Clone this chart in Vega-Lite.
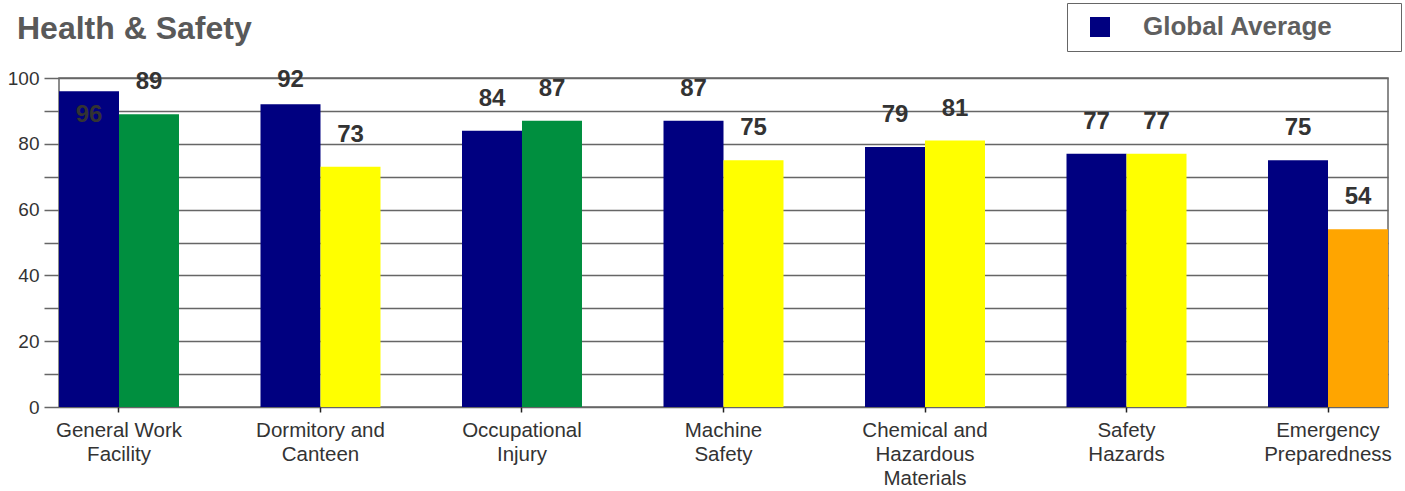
{
  "$schema": "https://vega.github.io/schema/vega-lite/v6.json",
  "width": 1329,
  "height": 329,
  "autosize": {"type": "none"},
  "padding": {"left": 59, "top": 78, "right": 17, "bottom": 84},
  "background": "white",
  "title": {
    "text": "Health & Safety",
    "anchor": "start",
    "frame": "group",
    "dx": -42,
    "dy": 68,
    "offset": 0,
    "baseline": "alphabetic",
    "font": "Liberation Sans",
    "fontSize": 32,
    "fontWeight": "bold",
    "color": "#595959"
  },
  "config": {
    "view": {"stroke": "#666666", "strokeWidth": 1.5},
    "font": "Liberation Sans"
  },
  "data": {
    "values": [
      {"category": "General Work Facility", "series": "Global Average", "value": 96, "rating": "Global Average"},
      {"category": "General Work Facility", "series": "Site", "value": 89, "rating": "Good"},
      {"category": "Dormitory and Canteen", "series": "Global Average", "value": 92, "rating": "Global Average"},
      {"category": "Dormitory and Canteen", "series": "Site", "value": 73, "rating": "Fair"},
      {"category": "Occupational Injury", "series": "Global Average", "value": 84, "rating": "Global Average"},
      {"category": "Occupational Injury", "series": "Site", "value": 87, "rating": "Good"},
      {"category": "Machine Safety", "series": "Global Average", "value": 87, "rating": "Global Average"},
      {"category": "Machine Safety", "series": "Site", "value": 75, "rating": "Fair"},
      {"category": "Chemical and Hazardous Materials", "series": "Global Average", "value": 79, "rating": "Global Average"},
      {"category": "Chemical and Hazardous Materials", "series": "Site", "value": 81, "rating": "Fair"},
      {"category": "Safety Hazards", "series": "Global Average", "value": 77, "rating": "Global Average"},
      {"category": "Safety Hazards", "series": "Site", "value": 77, "rating": "Fair"},
      {"category": "Emergency Preparedness", "series": "Global Average", "value": 75, "rating": "Global Average"},
      {"category": "Emergency Preparedness", "series": "Site", "value": 54, "rating": "Poor"}
    ]
  },
  "encoding": {
    "x": {
      "field": "category",
      "type": "nominal",
      "sort": null,
      "scale": {"paddingInner": 0.4045, "paddingOuter": 0},
      "axis": {
        "title": null,
        "domain": false,
        "grid": false,
        "labelAngle": 0,
        "ticks": true,
        "tickSize": 5,
        "tickColor": "#222222",
        "tickWidth": 1.5,
        "labelFont": "Liberation Sans",
        "labelFontSize": 20.5,
        "labelColor": "#333333",
        "labelPadding": 8,
        "labelLineHeight": 24,
        "labelLimit": 300,
        "labelExpr": "({'General Work Facility': ['General Work', 'Facility'], 'Dormitory and Canteen': ['Dormitory and', 'Canteen'], 'Occupational Injury': ['Occupational', 'Injury'], 'Machine Safety': ['Machine', 'Safety'], 'Chemical and Hazardous Materials': ['Chemical and', 'Hazardous', 'Materials'], 'Safety Hazards': ['Safety', 'Hazards'], 'Emergency Preparedness': ['Emergency', 'Preparedness']})[datum.label]"
      }
    },
    "xOffset": {
      "field": "series",
      "type": "nominal",
      "sort": ["Global Average", "Site"],
      "scale": {"paddingInner": 0, "paddingOuter": 0}
    }
  },
  "layer": [
    {
      "mark": {"type": "bar"},
      "encoding": {
        "y": {
          "field": "value",
          "type": "quantitative",
          "scale": {"domain": [0, 100], "nice": false},
          "axis": {
            "title": null,
            "tickCount": 10,
            "labelExpr": "datum.value % 20 === 0 ? datum.label : ''",
            "labelOverlap": false,
            "domain": false,
            "grid": true,
            "gridColor": "#666666",
            "gridWidth": 1.5,
            "gridOpacity": 1,
            "tickSize": 15,
            "tickColor": "#666666",
            "tickWidth": 1.5,
            "labelFont": "Liberation Sans",
            "labelFontSize": 19,
            "labelColor": "#333333",
            "labelPadding": 5
          }
        },
        "color": {
          "field": "rating",
          "type": "nominal",
          "scale": {
            "domain": ["Global Average", "Good", "Fair", "Poor"],
            "range": ["#000080", "#008F3F", "#FFFF00", "#FFA500"]
          },
          "legend": {
            "values": ["Global Average"],
            "title": null,
            "orient": "none",
            "legendX": 1008,
            "legendY": -75,
            "padding": 11,
            "strokeColor": "#666666",
            "fillColor": "white",
            "symbolType": "square",
            "symbolSize": 400,
            "symbolStrokeWidth": 0,
            "symbolOffset": 9,
            "labelOffset": 30,
            "labelLimit": 500,
            "labelFont": "Liberation Sans",
            "labelFontSize": 26,
            "labelFontWeight": "bold",
            "labelColor": "#5f5f5f",
            "labelExpr": "datum.label + '\u2003\u2003\u2009\u200b'"
          }
        }
      }
    },
    {
      "transform": [
        {"calculate": "datum.value > 95 ? datum.value - 7.25 : min(datum.value + 9.7, 99.4)", "as": "labelPos"}
      ],
      "mark": {
        "type": "text",
        "baseline": "middle",
        "align": "center",
        "font": "Liberation Sans",
        "fontSize": 24,
        "fontWeight": "bold",
        "color": "#333333"
      },
      "encoding": {
        "y": {"field": "labelPos", "type": "quantitative"},
        "text": {"field": "value", "type": "quantitative"}
      }
    }
  ]
}
